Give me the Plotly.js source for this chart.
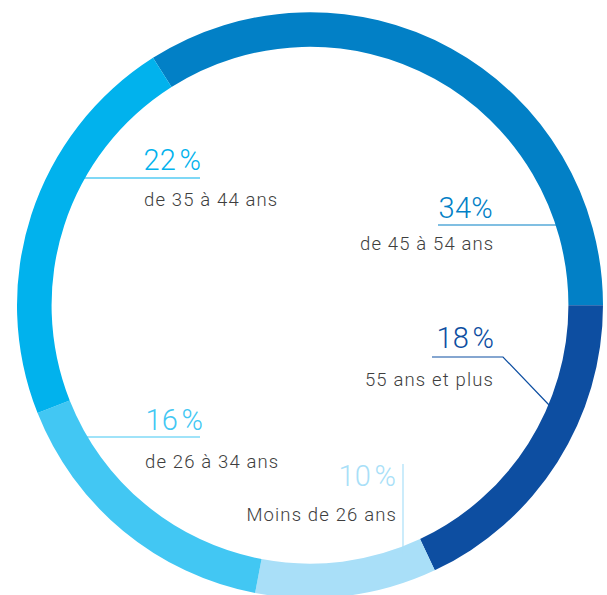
<!DOCTYPE html>
<html>
<head>
<meta charset="utf-8">
<script src="https://cdn.plot.ly/plotly-3.0.1.min.js"></script>
<style>
html,body{margin:0;padding:0;overflow:hidden;background:#fff;}
#chart{width:607px;height:600px;}
</style>
</head>
<body>
<div id="chart"></div>
<script>
// Data
const categories = ["de 45 à 54 ans", "55 ans et plus", "Moins de 26 ans", "de 26 à 34 ans", "de 35 à 44 ans"];
const values = [34, 18, 10, 16, 22];
const percentLabels = ["34%", "18\u200A%", "10\u200A%", "16\u200A%", "22\u200A%"];
const colors = ["#0280c6", "#0d4ea1", "#a9dff8", "#42c7f3", "#01b2ed"];

const W = 607, H = 600;
const px = x => x / W;
const py = y => 1 - y / H;

// letter spacing: percent annotations 0..4, category annotations 5..9
const st = document.createElement("style");
st.textContent = [5,6,7,8,9].map(i => `g.annotation[data-index="${i}"] text`).join(",") +
  "{letter-spacing:1.15px;}" +
  [0,1,2,3,4].map(i => `g.annotation[data-index="${i}"] text`).join(",") + "{letter-spacing:0.3px;}";
document.head.appendChild(st);

const trace = {
  type: "pie",
  values: values,
  labels: categories,
  marker: {colors: colors, line: {width: 0}},
  hole: 0.882,
  sort: false,
  direction: "clockwise",
  rotation: -32.4,
  textinfo: "none",
  hoverinfo: "label+percent",
  showlegend: false,
  domain: {x: [px(17), px(603)], y: [py(598.5), py(12)]}
};

// label placement (pixel centres), one per category
const place = [
  {pct: [465.5, 208], sub: [427.5, 244], line: [[438,225],[557,225]]},
  {pct: [465, 338], sub: [429, 380], line: [[432,357],[503,357],[550,406]]},
  {pct: [367.5, 476], sub: [321.5, 515], line: [[403,464],[403,554]]},
  {pct: [174.5, 420], sub: [211.5, 462], line: [[86,437],[200,437]]},
  {pct: [172.5, 160], sub: [211, 200], line: [[82,178],[200,178]]}
];

const annotations = [];
const shapes = [];
categories.forEach((c, i) => {
  const p = place[i];
  annotations.push({
    text: percentLabels[i], x: px(p.pct[0]), y: py(p.pct[1]), xref: "paper", yref: "paper",
    xanchor: "center", yanchor: "middle", showarrow: false,
    font: {family: "Roboto", size: 29, color: colors[i], weight: 300}
  });
  let path = "";
  p.line.forEach((pt, k) => { path += (k ? " L " : "M ") + px(pt[0]) + "," + py(pt[1]); });
  shapes.push({type: "path", xref: "paper", yref: "paper", path: path, line: {color: colors[i], width: 1.2}});
});
categories.forEach((c, i) => {
  const p = place[i];
  annotations.push({
    text: c, x: px(p.sub[0]), y: py(p.sub[1]), xref: "paper", yref: "paper",
    xanchor: "center", yanchor: "middle", showarrow: false,
    font: {family: "Roboto", size: 18.5, color: "#3e3e3e", weight: 300}
  });
});

const layout = {
  width: W, height: H,
  margin: {l: 0, r: 0, t: 0, b: 0},
  paper_bgcolor: "#ffffff",
  annotations: annotations,
  shapes: shapes
};

Plotly.newPlot("chart", [trace], layout, {displayModeBar: false, staticPlot: true});
</script>
</body>
</html>
